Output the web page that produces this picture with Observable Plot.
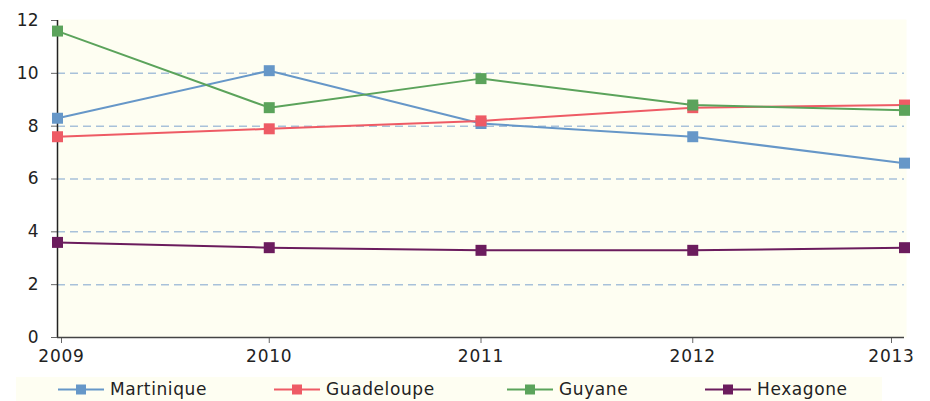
<!DOCTYPE html>
<html>
<head>
<meta charset="utf-8">
<script src="https://cdn.jsdelivr.net/npm/d3@7"></script>
<script src="https://cdn.jsdelivr.net/npm/@observablehq/plot@0.6"></script>
<style>
  html, body { margin: 0; padding: 0; background: #ffffff; }
  body { position: relative; width: 930px; height: 401px; overflow: hidden; font-family: "DejaVu Sans", sans-serif; }
  #chart { position: absolute; left: 0; top: 0; }
  #legend { position: absolute; left: 16px; top: 377px; width: 866px; height: 24px; background: #fefef2; }
  .item { position: absolute; top: 0; height: 24px; display: flex; align-items: center; font-size: 17px; color: #222; letter-spacing: 0.6px; }
  .item svg { margin-right: 6px; }
</style>
</head>
<body>
<div id="chart"></div>
<div id="legend"></div>
<script>
const years = [2009, 2010, 2011, 2012, 2013];
const seriesNames = ["Martinique", "Guadeloupe", "Guyane", "Hexagone"];
const martinique = [8.3, 10.1, 8.1, 7.6, 6.6];
const guadeloupe = [7.6, 7.9, 8.2, 8.7, 8.8];
const guyane = [11.6, 8.7, 9.8, 8.8, 8.6];
const hexagone = [3.6, 3.4, 3.3, 3.3, 3.4];
const seriesColors = ["#6697c8", "#ee5b65", "#5ba35b", "#6b1c5d"];
const yTicks = [0, 2, 4, 6, 8, 10, 12];
const gridValues = [2, 4, 6, 8, 10];

const valuesBySeries = [martinique, guadeloupe, guyane, hexagone];
const data = [];
seriesNames.forEach((s, i) => {
  years.forEach((y, j) => data.push({series: s, year: y, value: valuesBySeries[i][j]}));
});

const seriesMarks = seriesNames.flatMap((s, i) => {
  const d = data.filter(r => r.series === s);
  return [
    Plot.line(d, {x: "year", y: "value", stroke: seriesColors[i], strokeWidth: 2}),
    Plot.dot(d, {x: "year", y: "value", symbol: "square", r: 6.2, fill: seriesColors[i], stroke: "none"})
  ];
});

const tickStyle = {fontSize: 17, fill: "#222", stroke: "#666", tickSize: 6};

const chart = Plot.plot({
  width: 930,
  height: 370,
  marginLeft: 57,
  marginRight: 26,
  marginTop: 20,
  marginBottom: 33,
  style: {fontFamily: "DejaVu Sans, sans-serif", fontSize: "17px", color: "#222", background: "transparent"},
  x: {domain: [2009, 2013], type: "linear"},
  y: {domain: [0, 12]},
  marks: [
    Plot.frame({fill: "#fefef2", stroke: null, insetRight: -2, insetTop: -1}),
    Plot.ruleY(gridValues, {stroke: "#a8c1da", strokeWidth: 1.5, strokeDasharray: "8,5"}),
    Plot.axisY({ticks: yTicks, tickFormat: d => String(d), tickSize: 6, tickPadding: 13, fontSize: 17, stroke: "#666", fill: "#222", label: null}),
    Plot.axisX({ticks: [2010, 2011, 2012], tickFormat: "d", tickSize: 6, tickPadding: 6, fontSize: 17, stroke: "#666", fill: "#222", label: null, letterSpacing: 0.8}),
    Plot.axisX({ticks: [2009], tickFormat: "d", tickSize: 6, tickPadding: 6, fontSize: 17, stroke: "#666", fill: "#222", label: null, dx: 4}),
    Plot.axisX({ticks: [2013], tickFormat: "d", tickSize: 6, tickPadding: 6, fontSize: 17, stroke: "#666", fill: "#222", label: null, dx: -13}),
    Plot.ruleX([2009], {stroke: "#222", strokeWidth: 1.5}),
    Plot.ruleY([0], {stroke: "#444", strokeWidth: 1.5}),
    ...seriesMarks
  ]
});
chart.querySelectorAll('g[aria-label="x-axis tick label"] text').forEach(t => t.setAttribute("letter-spacing", "0.8"));
document.getElementById("chart").appendChild(chart);

// Legend
const legend = document.getElementById("legend");
const legendLeft = [42, 258, 491, 689];
seriesNames.forEach((s, i) => {
  const item = document.createElement("div");
  item.className = "item";
  item.style.left = legendLeft[i] + "px";
  const ns = "http://www.w3.org/2000/svg";
  const sw = document.createElementNS(ns, "svg");
  sw.setAttribute("width", 46);
  sw.setAttribute("height", 24);
  const ln = document.createElementNS(ns, "line");
  ln.setAttribute("x1", 0); ln.setAttribute("x2", 46);
  ln.setAttribute("y1", 12.5); ln.setAttribute("y2", 12.5);
  ln.setAttribute("stroke", seriesColors[i]); ln.setAttribute("stroke-width", 2);
  const rc = document.createElementNS(ns, "rect");
  rc.setAttribute("x", 18); rc.setAttribute("y", 7.5);
  rc.setAttribute("width", 10); rc.setAttribute("height", 10);
  rc.setAttribute("fill", seriesColors[i]);
  sw.appendChild(ln); sw.appendChild(rc);
  item.appendChild(sw);
  const label = document.createElement("span");
  label.textContent = s;
  item.appendChild(label);
  legend.appendChild(item);
});
</script>
</body>
</html>
